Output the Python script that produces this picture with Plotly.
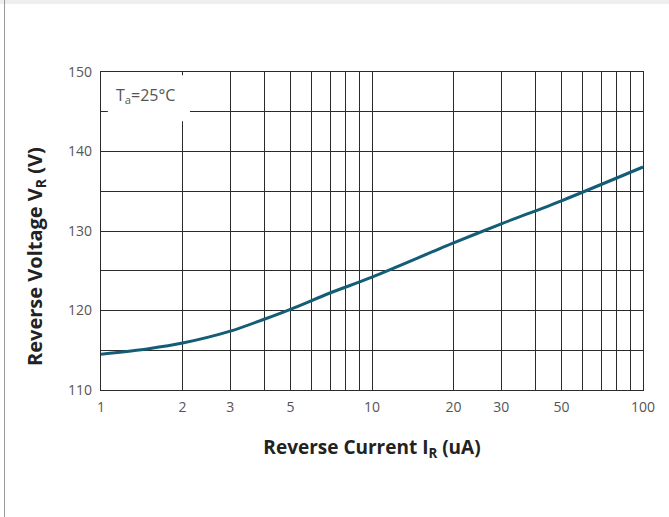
import plotly.graph_objects as go

# Data
current_uA = [1, 1.5, 2, 3, 4, 5, 7, 10, 20, 30, 50, 100]
voltage_V = [114.5, 115.2, 115.9, 117.4, 118.9, 120.15, 122.2, 124.2, 128.5, 130.9, 133.8, 138.05]

x_grid_vals = [1, 2, 3, 4, 5, 6, 7, 8, 9, 10, 20, 30, 40, 50, 60, 70, 80, 90, 100]
x_grid_text = ["1", "2", "3", "", "5", "", "", "", "", "10", "20", "30", "", "50", "", "", "", "", "100"]
y_tick_vals = [110, 120, 130, 140, 150]

grid_color = "#2b2b2b"
tick_font = dict(family="Open Sans, Lato, sans-serif", size=14, color="#555555")
title_font = dict(family="Open Sans, sans-serif", size=19, color="#222222")

fig = go.Figure()
fig.add_trace(go.Scatter(
    x=current_uA, y=voltage_V, mode="lines",
    line=dict(color="#135d76", width=3, shape="spline", smoothing=0.8),
    showlegend=False, hoverinfo="x+y",
))

fig.update_layout(
    width=669, height=517,
    margin=dict(l=101, r=26, t=72, b=127),
    paper_bgcolor="white", plot_bgcolor="white",
    xaxis=dict(
        type="log", range=[0, 2],
        tickvals=x_grid_vals, ticktext=x_grid_text,
        showgrid=True, gridcolor=grid_color, gridwidth=1,
        showline=True, linecolor=grid_color, linewidth=1.2, mirror=True,
        ticks="", ticklabelstandoff=4, tickfont=tick_font,
        zeroline=False,
        title=dict(text="<b>Reverse Current I<sub>R</sub> (uA)</b>", font=title_font, standoff=25),
    ),
    yaxis=dict(
        range=[110, 150],
        tickvals=y_tick_vals,
        showgrid=True, gridcolor=grid_color, gridwidth=1,
        minor=dict(dtick=5, tick0=110, showgrid=True, gridcolor=grid_color, gridwidth=1, ticks=""),
        showline=True, linecolor=grid_color, linewidth=1.2, mirror=True,
        ticks="", ticklabelstandoff=5, tickfont=tick_font,
        zeroline=False,
    ),
    shapes=[
        # white box behind the temperature label, hiding gridlines
        dict(type="rect", xref="x", yref="y", x0=1.06, x1=2.13, y0=143.8, y1=149.6,
             fillcolor="white", line=dict(width=0), layer="between"),
        # page frame decorations
        dict(type="rect", xref="paper", yref="paper", x0=-0.2, x1=1.1, y0=1.2138, y1=1.23,
             fillcolor="#eeeeee", line=dict(width=0), layer="below"),
        dict(type="line", xref="paper", yref="paper", x0=-0.178, x1=-0.178, y0=-0.41, y1=1.23,
             line=dict(color="#999999", width=1)),
    ],
    annotations=[
        dict(text="T<sub>a</sub>=25°C", x=0.165, y=147.0, xref="x", yref="y",
             showarrow=False, font=dict(family="Open Sans, sans-serif", size=16, color="#555555")),
        dict(text="<b>Reverse Voltage V<sub>R</sub> (V)</b>", textangle=-90,
             x=-0.122, y=0.421, xref="paper", yref="paper", xanchor="center", yanchor="middle",
             showarrow=False, font=dict(family="Open Sans, sans-serif", size=20, color="#222222")),
    ],
)

fig.write_html("out.html", config={"displayModeBar": False},
               post_script="document.body.style.margin='0';")
